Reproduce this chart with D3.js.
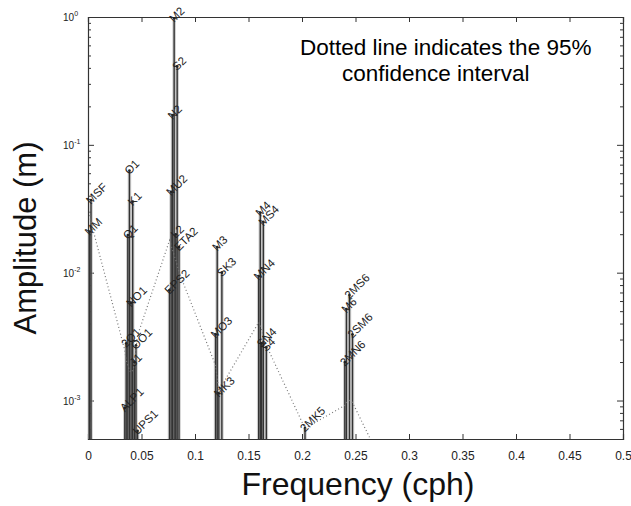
<!DOCTYPE html>
<html><head><meta charset="utf-8">
<script src="https://cdn.jsdelivr.net/npm/d3@7"></script>
<style>body{margin:0;background:#fff}svg{display:block}text{font-family:"Liberation Sans",Arial,sans-serif}</style>
</head><body><svg id="c" width="631" height="506"></svg>
<script>
// Tidal constituents (frequency in cph, amplitude in m)
const names = ["MM","MSF","ALP1","2Q1","Q1","O1","NO1","K1","J1","OO1","UPS1",
  "EPS2","MU2","N2","M2","L2","S2","ETA2","MO3","M3","MK3","SK3",
  "MN4","M4","SN4","MS4","S4","2MK5","2MN6","M6","2MS6","2SM6"];
const freqs = [0.0015122,0.0028219,0.0343966,0.0357064,0.0372185,0.0387307,0.0402686,0.0417807,0.0432929,0.0448308,0.0463430,
  0.0761773,0.0776895,0.0789992,0.0805114,0.0820236,0.0833333,0.0850736,0.1192421,0.1207671,0.1222921,0.1251141,
  0.1595106,0.1610228,0.1623326,0.1638447,0.1666667,0.2028035,0.2400221,0.2415342,0.2443561,0.2471781];
const amps = [0.021,0.037,0.00088,0.0028,0.0197,0.063,0.0058,0.036,0.0020,0.0027,0.00058,
  0.0073,0.043,0.17,0.98,0.020,0.41,0.0159,0.0033,0.0159,0.00114,0.010,
  0.0094,0.0296,0.0028,0.025,0.0026,0.00061,0.0020,0.0052,0.0067,0.0033];
// 95% confidence level (dotted line)
const confFreqs = [0.0015122,0.0028219,0.0343966,0.0357064,0.0372185,0.0387307,0.0402686,0.0417807,0.0432929,0.0448308,0.0463430,
  0.0761773,0.0776895,0.0789992,0.0805114,0.0820236,0.0833333,0.0850736,0.1192421,0.1207671,0.1222921,0.1251141,
  0.1595106,0.1610228,0.1623326,0.1638447,0.1666667,0.2028035,0.2400221,0.2415342,0.2443561,0.2471781,0.2833149];
const confAmps = [0.0282,0.0248,0.00247,0.00206,0.00188,0.00172,0.00166,0.00172,0.00188,0.00256,0.00323,
  0.0179,0.0164,0.0150,0.0137,0.0125,0.0114,0.0101,0.00188,0.00149,0.00116,0.00131,
  0.00409,0.00387,0.00354,0.00318,0.00270,0.000605,0.000916,0.000966,0.00100,0.000966,0.000232];
const xTicks = [0,0.05,0.1,0.15,0.2,0.25,0.3,0.35,0.4,0.45,0.5];
const xTickLabels = ["0","0.05","0.1","0.15","0.2","0.25","0.3","0.35","0.4","0.45","0.5"];
const yMajor = [1,0.1,0.01,0.001];
const yExp = ["0","-1","-2","-3"];

const svg = d3.select("#c");
const L=88,R=623,T=17,B=439;
const x = d3.scaleLinear().domain([0,0.5]).range([L,R]);
const y = d3.scaleLog().domain([5e-4,1]).range([B,T]);

svg.append("clipPath").attr("id","pc").append("rect")
  .attr("x",L).attr("y",T).attr("width",R-L).attr("height",B-T);

// minor ticks
const yMinor = [];
[0.0001,0.001,0.01,0.1].forEach(d=>{for(let k=1;k<10;k++){const v=d*k; if(v>=5e-4&&v<=1) yMinor.push(v);}});
yMinor.push(1);

const axCol="#333";
const gl = svg.append("g").attr("transform",`translate(${L},0)`)
  .call(d3.axisLeft(y).tickValues(yMinor).tickSize(-3).tickFormat(""));
gl.selectAll(".tick line").filter(d=>yMajor.some(m=>Math.abs(m-d)<1e-12)).attr("x2",6);
const gr = svg.append("g").attr("transform",`translate(${R},0)`)
  .call(d3.axisRight(y).tickValues(yMinor).tickSize(-3).tickFormat(""));
gr.selectAll(".tick line").filter(d=>yMajor.some(m=>Math.abs(m-d)<1e-12)).attr("x2",-6);
const gb = svg.append("g").attr("transform",`translate(0,${B})`)
  .call(d3.axisBottom(x).tickValues(xTicks).tickSize(-5).tickFormat((d,i)=>xTickLabels[i]));
gb.selectAll("text").attr("y",12).attr("font-size",12).attr("fill","#222");
svg.append("g").attr("transform",`translate(0,${T})`)
  .call(d3.axisTop(x).tickValues(xTicks).tickSize(-5).tickFormat(""));
svg.selectAll(".domain").attr("stroke",axCol).attr("stroke-width",1.2);
svg.selectAll(".tick line").attr("stroke",axCol);

yMajor.forEach((v,i)=>{
  const t = svg.append("text").attr("x",63).attr("y",y(v)+4).attr("font-size",10).attr("fill","#222");
  t.append("tspan").text("10");
  t.append("tspan").attr("font-size",7).attr("dy",-5).text(yExp[i]);
});

const plot = svg.append("g").attr("clip-path","url(#pc)");
// soft gray halo under stems
plot.selectAll("line.halo").data(names).join("line").attr("class","halo")
  .attr("x1",(d,i)=>x(freqs[i])).attr("x2",(d,i)=>x(freqs[i]))
  .attr("y1",B).attr("y2",(d,i)=>y(amps[i]))
  .attr("stroke","#aaa").attr("stroke-width",3.5).attr("stroke-opacity",0.6);
plot.selectAll("line.stem").data(names).join("line").attr("class","stem")
  .attr("x1",(d,i)=>x(freqs[i])).attr("x2",(d,i)=>x(freqs[i]))
  .attr("y1",B).attr("y2",(d,i)=>y(amps[i]))
  .attr("stroke","#333").attr("stroke-width",1.4);
plot.selectAll("circle.mk").data(names).join("circle").attr("class","mk")
  .attr("cx",(d,i)=>x(freqs[i])).attr("cy",(d,i)=>y(amps[i])).attr("r",1.3).attr("fill","#222");
plot.append("path").datum(confFreqs.map((f,i)=>[f,confAmps[i]]))
  .attr("d",d3.line().x(d=>x(d[0])).y(d=>y(d[1])))
  .attr("fill","none").attr("stroke","#777").attr("stroke-width",1.2).attr("stroke-dasharray","1,2.5");

svg.selectAll("text.lab").data(names).join("text").attr("class","lab")
  .attr("transform",(d,i)=>`translate(${x(freqs[i])-3},${y(amps[i])+2}) rotate(-45)`)
  .attr("dy","0.35em").attr("font-size",11.5).attr("fill","#222").text(d=>d);

svg.append("text").attr("x",358).attr("y",495).attr("text-anchor","middle")
  .attr("font-size",32).attr("fill","#111").text("Frequency (cph)");
svg.append("text").attr("transform","translate(36,238) rotate(-90)").attr("text-anchor","middle")
  .attr("font-size",31).attr("fill","#111").text("Amplitude (m)");
svg.append("text").attr("x",300).attr("y",55).attr("font-size",22.5).attr("fill","#000")
  .text("Dotted line indicates the 95%");
svg.append("text").attr("x",342).attr("y",81).attr("font-size",22.5).attr("fill","#000")
  .text("confidence interval");
</script></body></html>
